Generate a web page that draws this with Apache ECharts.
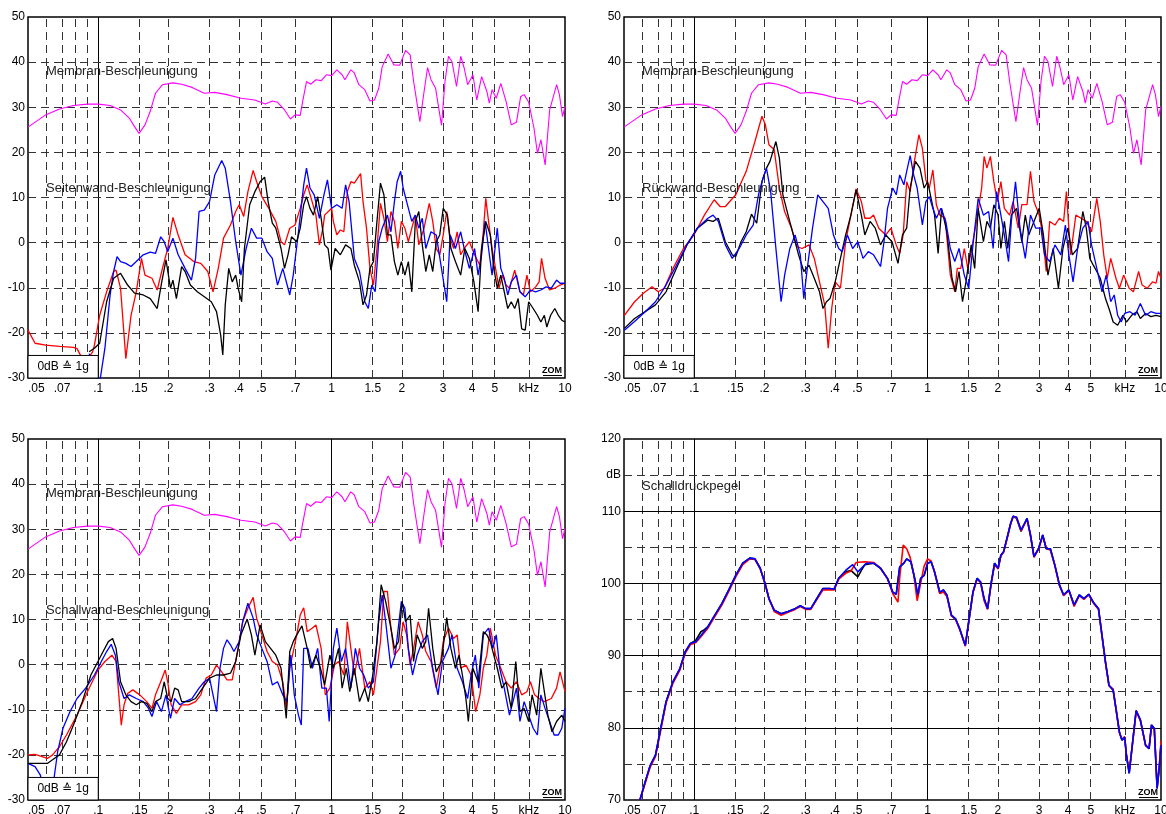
<!DOCTYPE html>
<html><head><meta charset="utf-8">
<script src="https://cdn.jsdelivr.net/npm/echarts@6/dist/echarts.min.js"></script>
<style>html,body{margin:0;padding:0;background:#fff}#c{width:1166px;height:814px}</style>
</head><body><div id="c"></div>
<script>
// ---------- axis tick data ----------
const xLabelValues = [0.05,0.07,0.1,0.15,0.2,0.3,0.4,0.5,0.7,1,1.5,2,3,4,5,7,10];
const xLabelTexts  = ['.05','.07','.1','.15','.2','.3','.4','.5','.7','1','1.5','2','3','4','5','kHz','10'];
const xDashedLines = [0.06,0.07,0.08,0.09,0.15,0.2,0.3,0.4,0.5,0.7,1.5,2,3,4,5,7];
const xSolidLines  = [0.1,1];
const accYDashed   = [-20,-10,0,10,20,30,40];
const splYDashed   = [75,85,95,105,115];
const splYSolid    = [80,90,100,110];
const splYLabels   = {120:'120',115:'dB',110:'110',100:'100',90:'90',80:'80',70:'70'};

// ---------- series data: [frequency kHz, level dB] ----------
const membran = [[0.05,25.6],[0.0595,28.3],[0.0682,29.6],[0.0783,30.4],[0.0899,30.7],[0.1,30.7],[0.1124,30.4],[0.1246,29.4],[0.1358,27.6],[0.143,25.7],[0.1496,24.2],[0.1586,26.1],[0.167,29.1],[0.1759,33.1],[0.1884,35.0],[0.2089,35.4],[0.2277,35.1],[0.2524,34.4],[0.2848,33.1],[0.3157,33.3],[0.3561,32.8],[0.4088,32.0],[0.469,31.6],[0.52,30.7],[0.5571,31.4],[0.5866,31.1],[0.6285,29.4],[0.6663,27.4],[0.6966,28.3],[0.7336,28.2],[0.7516,31.3],[0.7805,35.7],[0.8134,35.1],[0.8566,36.1],[0.9019,35.9],[0.9497,37.2],[1.0,37.0],[1.053,38.3],[1.109,37.2],[1.14,36.1],[1.208,38.3],[1.251,37.6],[1.308,35.0],[1.387,33.9],[1.46,31.4],[1.527,31.6],[1.592,34.2],[1.647,39.0],[1.747,41.8],[1.846,39.4],[1.957,39.3],[2.075,42.6],[2.17,41.6],[2.246,35.7],[2.389,26.8],[2.49,33.5],[2.577,38.8],[2.667,36.1],[2.789,34.2],[2.957,26.0],[3.061,35.7],[3.168,41.3],[3.279,40.1],[3.429,34.6],[3.574,41.3],[3.698,38.7],[3.828,35.0],[4.031,37.2],[4.187,31.6],[4.393,36.8],[4.626,33.5],[4.738,30.9],[4.871,33.9],[5.076,32.0],[5.309,35.3],[5.59,31.3],[5.886,26.1],[6.197,26.7],[6.459,32.4],[6.686,32.8],[6.991,31.1],[7.362,25.4],[7.621,19.8],[7.888,22.8],[8.221,17.2],[8.597,29.4],[9.207,35.0],[9.465,32.8],[9.761,27.9],[10,30.2]];

const seitenRed = [[0.05,-19.4],[0.0536,-22.3],[0.0595,-22.7],[0.0682,-23.0],[0.0783,-23.2],[0.0811,-23.5],[0.0854,-25.7],[0.0883,-26.4],[0.0946,-24.2],[0.0963,-22.7],[0.1014,-16.1],[0.1086,-10.9],[0.1164,-6.4],[0.1192,-6.1],[0.1246,-10.1],[0.1313,-25.7],[0.1382,-16.1],[0.1455,-10.9],[0.1532,-3.5],[0.1586,-7.2],[0.1699,-7.9],[0.1789,-10.5],[0.1884,-5.7],[0.1984,-1.3],[0.2089,5.6],[0.22,1.7],[0.2356,-2.7],[0.2568,-4.2],[0.2751,-4.6],[0.2947,-6.4],[0.3103,-10.9],[0.3268,-5.7],[0.3441,1.0],[0.3686,3.9],[0.3881,6.9],[0.4017,8.4],[0.4201,5.8],[0.4378,11.3],[0.461,16.0],[0.4772,13.5],[0.5024,10.2],[0.5382,7.6],[0.5765,4.7],[0.6071,0.2],[0.6283,-0.5],[0.6616,3.2],[0.6967,3.9],[0.7336,7.6],[0.7592,10.6],[0.7858,12.8],[0.8133,10.2],[0.8565,6.1],[0.8865,-0.5],[0.9175,3.2],[0.9334,6.1],[1.0,7.6],[1.017,4.7],[1.053,1.7],[1.09,2.8],[1.128,2.4],[1.168,11.3],[1.209,13.5],[1.251,13.2],[1.331,15.3],[1.363,9.1],[1.411,3.2],[1.46,-5.7],[1.511,-9.4],[1.564,-1.3],[1.619,8.7],[1.675,5.4],[1.734,0.2],[1.795,6.9],[1.858,4.7],[1.922,-1.3],[1.99,4.7],[2.06,3.2],[2.132,0.2],[2.206,3.2],[2.284,6.1],[2.364,-0.5],[2.488,3.2],[2.621,8.7],[2.712,4.7],[2.807,-1.3],[2.906,-2.7],[3.007,1.7],[3.113,6.9],[3.222,1.0],[3.334,-1.3],[3.451,2.4],[3.572,-2.7],[3.697,-1.3],[3.893,0.2],[4.099,-2.7],[4.317,-5.0],[4.467,2.4],[4.576,9.8],[4.704,4.7],[4.869,-1.3],[5.039,-5.7],[5.216,-10.1],[5.398,-7.2],[5.587,-9.4],[5.783,-10.1],[6.089,-6.1],[6.411,-10.9],[6.636,-11.6],[6.868,-7.2],[7.109,-10.9],[7.485,-9.8],[7.747,-8.7],[7.935,-3.5],[8.214,-7.9],[8.59,-10.5],[9.044,-10.1],[9.524,-9.4],[10,-9.0]];

const seitenBlue = [[0.0914,-24.6],[0.1014,-31],[0.1068,-23.4],[0.1124,-11.6],[0.1164,-6.4],[0.1204,-3.1],[0.1246,-4.2],[0.1313,-4.6],[0.1382,-5.3],[0.1455,-4.2],[0.1559,-2.7],[0.167,-2.1],[0.1759,-2.4],[0.1852,1.3],[0.1917,0.2],[0.1984,-2.0],[0.2089,1.0],[0.22,-2.7],[0.2356,-5.7],[0.2507,-8.3],[0.2612,-3.5],[0.2704,6.9],[0.2847,7.2],[0.2998,9.1],[0.3157,15.0],[0.3382,18.2],[0.3501,16.5],[0.3686,9.1],[0.3881,0.2],[0.4087,-7.2],[0.4303,-1.3],[0.4531,3.2],[0.4772,1.0],[0.5024,1.0],[0.529,-2.0],[0.557,-3.5],[0.5865,-9.4],[0.6176,-5.7],[0.6616,-11.6],[0.6848,-7.2],[0.721,2.4],[0.7592,12.8],[0.7804,16.5],[0.8078,12.1],[0.8418,10.6],[0.8865,5.4],[0.927,10.6],[0.9594,13.9],[1.0,7.6],[1.053,8.4],[1.109,7.6],[1.148,12.8],[1.188,9.1],[1.251,-3.5],[1.317,-6.4],[1.387,-13.1],[1.436,-14.6],[1.486,-9.4],[1.537,-10.9],[1.591,0.2],[1.647,3.2],[1.734,6.1],[1.795,2.4],[1.858,9.1],[1.909,13.5],[1.976,15.8],[2.025,12.1],[2.096,9.1],[2.206,4.7],[2.284,6.1],[2.364,3.2],[2.446,5.4],[2.532,-1.3],[2.666,2.4],[2.807,1.7],[2.956,-5.7],[3.113,-13.1],[3.222,1.7],[3.392,-1.3],[3.572,2.4],[3.697,-1.3],[3.893,-5.7],[4.099,-1.3],[4.243,-7.2],[4.391,-2.7],[4.545,4.7],[4.704,-1.3],[4.869,-7.2],[5.127,3.2],[5.307,-5.7],[5.492,-7.9],[5.684,-11.6],[5.883,-8.7],[6.195,-7.2],[6.411,-10.9],[6.751,-12.0],[7.109,-10.5],[7.485,-10.9],[7.881,-10.5],[8.299,-9.8],[8.738,-10.1],[9.201,-8.3],[9.524,-9.0],[10,-9.0]];

const seitenBlack = [[0.0914,-24.2],[0.0963,-23.4],[0.1014,-22.3],[0.1086,-13.1],[0.1164,-7.9],[0.1246,-6.8],[0.1336,-9.4],[0.143,-11.2],[0.1559,-11.6],[0.167,-12.4],[0.1789,-14.6],[0.1871,-8.7],[0.1951,-3.8],[0.2039,-10.1],[0.2089,-8.3],[0.2162,-12.4],[0.2277,-5.3],[0.2356,-6.4],[0.2481,-9.4],[0.2658,-10.9],[0.2848,-12.0],[0.305,-13.1],[0.3212,-15.3],[0.3347,-20.5],[0.3417,-24.9],[0.3501,-13.8],[0.3623,-5.7],[0.375,-8.7],[0.3881,-7.2],[0.3975,-10.1],[0.4116,-13.1],[0.423,-1.3],[0.4454,8.4],[0.469,11.3],[0.4938,13.5],[0.5164,14.5],[0.5345,9.1],[0.557,4.3],[0.5765,3.2],[0.6071,-1.3],[0.6283,-5.7],[0.6503,-2.7],[0.6731,1.3],[0.7087,0.2],[0.7336,3.2],[0.7592,8.4],[0.7804,10.2],[0.8078,7.6],[0.836,6.1],[0.8713,10.2],[0.9018,5.4],[0.9334,-0.5],[0.966,-1.3],[0.9931,-6.1],[1.035,-1.3],[1.09,-2.7],[1.148,-0.5],[1.209,-1.3],[1.251,-5.0],[1.317,-8.7],[1.363,-13.8],[1.411,-11.6],[1.46,-5.7],[1.511,-4.2],[1.564,4.7],[1.619,13.2],[1.675,10.6],[1.734,1.7],[1.795,1.7],[1.858,-4.2],[1.922,-7.2],[1.99,-4.2],[2.06,-7.2],[2.132,-4.2],[2.206,-10.9],[2.284,4.7],[2.364,6.9],[2.446,-0.5],[2.532,-6.4],[2.621,-2.7],[2.712,-6.4],[2.807,0.2],[2.906,1.7],[3.007,7.6],[3.134,6.1],[3.244,-1.3],[3.392,-4.2],[3.572,-7.2],[3.723,-1.3],[3.893,-3.5],[4.07,-8.7],[4.243,-15.3],[4.391,-1.3],[4.576,4.7],[4.786,1.7],[4.953,-5.7],[5.127,-10.1],[5.307,-7.2],[5.492,-10.9],[5.684,-14.6],[5.883,-13.1],[6.089,-14.6],[6.302,-12.4],[6.522,-19.1],[6.751,-19.4],[6.987,-13.1],[7.307,-14.6],[7.615,-16.1],[7.881,-17.6],[8.157,-16.1],[8.358,-18.7],[8.678,-16.1],[9.044,-14.6],[9.361,-16.1],[9.689,-17.2],[10,-17.6]];

const rueckRed = [[0.0502,-16.1],[0.0555,-13.1],[0.0605,-11.2],[0.0659,-9.8],[0.0701,-10.9],[0.0744,-10.1],[0.0811,-5.7],[0.0899,-1.3],[0.0997,1.7],[0.1105,6.1],[0.1217,9.5],[0.129,8.0],[0.1359,8.0],[0.1506,10.6],[0.167,15.8],[0.182,22.4],[0.195,28.0],[0.2018,26.1],[0.2089,21.7],[0.22,20.6],[0.2316,12.1],[0.2439,6.9],[0.2612,3.2],[0.2751,-0.9],[0.2897,-1.3],[0.3103,-0.5],[0.3268,-3.5],[0.3441,-8.7],[0.3623,-13.8],[0.375,-23.4],[0.3881,-14.6],[0.4017,-8.7],[0.423,-10.1],[0.4454,0.2],[0.469,6.1],[0.4938,11.9],[0.52,9.1],[0.5382,5.4],[0.5667,5.4],[0.5865,6.1],[0.6176,3.2],[0.6616,1.7],[0.6967,3.2],[0.7336,-0.5],[0.7592,-2.4],[0.7858,1.7],[0.8133,13.5],[0.8418,11.3],[0.8773,18.0],[0.9175,23.9],[0.9496,20.9],[0.9828,13.9],[1.017,12.1],[1.053,16.1],[1.09,8.4],[1.128,6.1],[1.188,5.4],[1.251,-7.2],[1.307,-10.9],[1.34,-5.7],[1.387,-5.7],[1.436,-1.3],[1.486,-5.7],[1.537,-2.0],[1.619,4.7],[1.704,12.1],[1.746,19.1],[1.795,16.5],[1.858,19.1],[1.922,13.5],[1.99,9.1],[2.06,13.5],[2.132,7.6],[2.245,6.1],[2.324,9.1],[2.446,3.2],[2.532,8.4],[2.666,8.4],[2.759,15.8],[2.856,9.1],[3.007,6.1],[3.113,1.7],[3.222,-6.4],[3.334,4.7],[3.511,3.9],[3.671,5.4],[3.826,4.7],[3.932,11.3],[4.099,-2.7],[4.317,6.1],[4.545,5.4],[4.786,4.7],[5.039,2.4],[5.307,9.8],[5.492,4.7],[5.684,-2.7],[5.883,-7.9],[6.089,-3.5],[6.411,-7.9],[6.636,-10.1],[6.916,-7.2],[7.307,-10.1],[7.615,-10.9],[8.018,-6.4],[8.299,-9.4],[8.738,-10.1],[9.201,-8.7],[9.524,-9.0],[9.754,-6.4],[10,-7.9]];

const rueckBlack = [[0.0502,-19.0],[0.0555,-16.8],[0.0616,-15.3],[0.0682,-13.8],[0.0757,-10.9],[0.0839,-5.7],[0.093,-0.5],[0.1031,3.2],[0.1144,5.0],[0.1204,4.7],[0.1268,5.4],[0.1359,0.2],[0.1455,-2.7],[0.1506,-3.1],[0.1586,0.2],[0.167,2.4],[0.1759,6.3],[0.1852,4.3],[0.195,13.5],[0.2039,16.5],[0.2111,18.0],[0.2238,22.4],[0.2316,18.7],[0.2397,10.6],[0.2524,6.1],[0.2658,1.7],[0.2799,-2.7],[0.2947,-6.4],[0.3103,-5.0],[0.3268,-7.9],[0.3441,-10.9],[0.3561,-14.6],[0.3686,-13.1],[0.3815,-12.4],[0.4017,-8.7],[0.423,-3.5],[0.4454,1.7],[0.469,6.1],[0.4938,11.7],[0.52,6.1],[0.5382,1.7],[0.5667,4.7],[0.5967,3.2],[0.6283,-0.5],[0.6616,1.7],[0.7039,0.2],[0.7463,-4.6],[0.7804,1.7],[0.8133,3.2],[0.8418,12.1],[0.8865,18.0],[0.927,16.5],[0.966,12.1],[1.0,13.5],[1.035,9.8],[1.071,6.1],[1.109,-2.4],[1.148,7.6],[1.209,2.4],[1.272,-7.9],[1.317,-10.9],[1.363,-6.4],[1.411,-13.1],[1.46,-8.7],[1.537,-0.5],[1.591,-5.7],[1.647,7.6],[1.734,0.2],[1.795,4.7],[1.858,3.2],[1.922,8.4],[2.004,6.1],[2.06,-1.3],[2.132,4.7],[2.206,-1.3],[2.284,6.1],[2.405,7.6],[2.532,0.2],[2.621,6.1],[2.712,1.7],[2.856,4.7],[3.007,7.6],[3.134,1.7],[3.278,-7.2],[3.451,-1.3],[3.634,-10.1],[3.8,-1.3],[3.988,3.2],[4.171,-2.7],[4.391,-1.3],[4.624,6.9],[4.786,3.2],[4.953,-3.5],[5.127,-5.0],[5.307,-6.4],[5.492,-7.9],[5.783,-12.4],[5.985,-14.6],[6.238,-17.6],[6.522,-18.3],[6.868,-16.1],[7.109,-17.6],[7.485,-16.1],[7.881,-15.3],[8.157,-16.8],[8.59,-15.7],[9.044,-16.4],[9.524,-16.1],[10,-16.4]];

const rueckBlue = [[0.0502,-19.4],[0.0555,-17.5],[0.0616,-15.3],[0.0682,-13.1],[0.0757,-9.4],[0.0839,-5.0],[0.093,-0.5],[0.1031,3.2],[0.1144,5.4],[0.1204,6.1],[0.1268,4.7],[0.1359,-0.5],[0.1455,-3.5],[0.1559,-1.3],[0.167,1.7],[0.1789,3.9],[0.1884,10.6],[0.197,14.3],[0.2039,16.5],[0.2125,11.3],[0.2238,-1.3],[0.2356,-13.1],[0.2439,-7.2],[0.2568,-1.3],[0.2704,1.7],[0.2847,-2.7],[0.2947,-12.4],[0.305,-5.7],[0.3212,3.2],[0.3382,10.6],[0.3561,9.1],[0.375,7.6],[0.3948,1.7],[0.4158,-1.3],[0.4303,-2.0],[0.4531,1.7],[0.4772,-1.3],[0.5024,0.2],[0.529,-3.5],[0.557,-2.0],[0.5865,-2.7],[0.6283,-5.3],[0.6503,0.2],[0.6731,7.6],[0.7087,12.1],[0.7336,10.6],[0.7592,15.0],[0.7912,12.8],[0.8133,15.8],[0.8418,19.3],[0.8713,15.0],[0.9018,12.1],[0.9496,3.9],[0.9828,9.1],[1.017,10.2],[1.053,7.6],[1.09,5.4],[1.14,7.6],[1.196,4.7],[1.251,-1.3],[1.307,-4.2],[1.363,-1.3],[1.436,-7.2],[1.5,-10.1],[1.564,-0.5],[1.647,9.8],[1.734,6.1],[1.826,6.9],[1.909,-1.3],[1.976,11.3],[2.06,6.1],[2.132,1.7],[2.222,-4.2],[2.284,4.7],[2.38,13.5],[2.488,3.2],[2.621,-3.5],[2.759,6.1],[2.906,3.2],[3.059,3.2],[3.167,-2.7],[3.334,-4.2],[3.511,-0.5],[3.723,-2.7],[3.893,3.9],[4.029,-2.7],[4.199,-8.7],[4.391,-1.3],[4.624,3.2],[4.869,4.7],[5.039,-0.5],[5.307,-5.7],[5.587,-10.9],[5.823,-7.2],[6.089,-13.1],[6.302,-11.6],[6.522,-16.1],[6.751,-17.6],[6.987,-15.7],[7.357,-15.3],[7.747,-16.1],[8.157,-13.5],[8.59,-16.1],[9.044,-15.3],[9.524,-15.7],[10,-15.7]];

const schallwRed = [[0.05,-20.0],[0.0536,-19.9],[0.0575,-20.4],[0.0605,-20.8],[0.0637,-20.0],[0.0682,-18.2],[0.0731,-15.6],[0.0811,-11.2],[0.0899,-6.0],[0.0997,-1.2],[0.1068,0.7],[0.1144,2.1],[0.1192,0.7],[0.1225,-6.7],[0.1255,-13.4],[0.129,-8.9],[0.1336,-6.4],[0.1406,-5.6],[0.1506,-6.7],[0.1614,-8.2],[0.1699,-9.7],[0.1759,-6.7],[0.1852,-3.8],[0.1936,-1.2],[0.1984,-3.8],[0.2053,-8.9],[0.2162,-10.8],[0.2277,-8.9],[0.2439,-8.9],[0.2612,-8.2],[0.2751,-6.7],[0.2897,-3.0],[0.305,-2.3],[0.3212,-0.1],[0.3382,-1.6],[0.3561,-3.4],[0.375,-3.4],[0.3948,2.9],[0.4158,9.5],[0.4378,12.5],[0.461,14.9],[0.4772,10.3],[0.5024,6.6],[0.529,2.9],[0.557,0.7],[0.5865,-0.1],[0.6176,-3.8],[0.6392,-9.7],[0.6616,-0.8],[0.6848,2.9],[0.7087,6.6],[0.7336,11.0],[0.7592,12.6],[0.7858,7.3],[0.8274,8.1],[0.8565,8.8],[0.9018,3.6],[0.9398,-6.7],[0.9828,-5.2],[1.028,-0.1],[1.071,0.7],[1.128,-2.3],[1.168,9.5],[1.209,3.6],[1.251,-2.3],[1.317,3.6],[1.387,-5.2],[1.46,-3.8],[1.511,-6.7],[1.564,-0.8],[1.619,5.1],[1.675,16.2],[1.734,16.2],[1.795,8.1],[1.858,2.1],[1.956,3.6],[2.025,9.5],[2.096,6.6],[2.169,-0.1],[2.245,3.6],[2.348,9.5],[2.446,6.6],[2.532,2.9],[2.666,0.7],[2.807,-5.2],[2.906,-0.8],[3.007,5.1],[3.167,8.1],[3.334,5.8],[3.451,6.6],[3.572,-0.8],[3.761,-0.1],[3.96,-2.3],[4.142,-10.4],[4.317,-6.7],[4.467,-0.8],[4.624,2.1],[4.786,8.1],[5.039,2.1],[5.307,-0.8],[5.587,-3.8],[5.883,-5.2],[6.195,-3.8],[6.522,-6.7],[6.868,-6.0],[7.109,-3.8],[7.408,-6.7],[7.747,-7.5],[8.157,-8.2],[8.738,-7.5],[9.201,-5.2],[9.524,-1.6],[10,-6.0]];

const schallwBlack = [[0.05,-21.9],[0.0555,-21.9],[0.0605,-21.9],[0.0637,-21.1],[0.0682,-20.0],[0.0731,-17.1],[0.0783,-13.4],[0.0854,-8.2],[0.093,-2.3],[0.0997,0.7],[0.1049,2.9],[0.1105,5.1],[0.1152,5.8],[0.1192,3.6],[0.1246,-3.8],[0.1313,-6.7],[0.1382,-8.2],[0.1455,-8.9],[0.1532,-8.2],[0.1614,-8.6],[0.1699,-10.4],[0.1759,-8.2],[0.1852,-7.5],[0.1917,-3.8],[0.1984,-7.5],[0.2053,-8.2],[0.2125,-5.2],[0.22,-5.6],[0.2277,-8.2],[0.2439,-8.2],[0.2612,-7.5],[0.2799,-5.2],[0.2998,-3.0],[0.3212,-2.3],[0.3441,-2.3],[0.3686,-1.9],[0.3881,0.7],[0.4087,6.6],[0.4348,10.1],[0.4531,6.6],[0.469,2.1],[0.4938,8.8],[0.52,5.1],[0.5475,3.6],[0.5765,2.1],[0.6071,-0.8],[0.6392,-11.9],[0.6616,2.9],[0.6848,5.1],[0.7087,6.6],[0.7463,8.6],[0.7858,3.6],[0.8133,-0.8],[0.8565,2.1],[0.8956,-0.8],[0.9334,-4.5],[0.9828,2.1],[1.017,-0.8],[1.071,3.6],[1.109,-5.2],[1.156,-0.8],[1.196,-6.0],[1.251,-0.8],[1.317,-8.2],[1.387,-5.2],[1.436,-8.2],[1.5,-2.3],[1.564,5.1],[1.63,17.7],[1.704,14.0],[1.795,8.1],[1.858,3.6],[1.936,5.1],[2.004,14.0],[2.074,9.5],[2.169,11.0],[2.245,0.7],[2.324,6.6],[2.446,3.6],[2.532,5.1],[2.603,12.5],[2.712,3.6],[2.807,-1.6],[2.956,0.7],[3.113,10.4],[3.244,3.6],[3.392,-0.8],[3.511,2.1],[3.634,-2.3],[3.761,-7.5],[3.853,-12.6],[4.029,-0.8],[4.243,-3.8],[4.467,7.3],[4.624,6.6],[4.786,5.1],[4.953,2.1],[5.127,-0.8],[5.361,-5.2],[5.587,-3.8],[5.883,-9.7],[6.152,0.7],[6.411,-10.4],[6.682,-9.7],[6.987,-12.6],[7.232,-6.7],[7.563,-11.2],[7.881,-0.8],[8.157,-6.0],[8.443,-11.2],[8.798,-14.9],[9.201,-12.6],[9.689,-11.2],[10,-12.6]];

const schallwBlue = [[0.05,-21.9],[0.0536,-22.6],[0.0565,-24.5],[0.0595,-31],[0.0637,-31],[0.0648,-24.8],[0.067,-19.3],[0.0706,-14.1],[0.0757,-10.4],[0.0811,-7.5],[0.0883,-5.2],[0.0963,-2.3],[0.1031,0.7],[0.1086,2.9],[0.1136,4.5],[0.1184,2.1],[0.1225,-3.8],[0.129,-7.5],[0.1359,-6.7],[0.1455,-7.5],[0.1559,-8.2],[0.1642,-9.7],[0.1699,-11.5],[0.1777,-8.2],[0.1865,-10.4],[0.195,-6.7],[0.2039,-11.9],[0.2125,-7.5],[0.2238,-8.9],[0.2356,-8.2],[0.2524,-7.5],[0.2704,-5.2],[0.2847,-3.8],[0.2998,-3.0],[0.3103,-6.7],[0.3212,-10.4],[0.3324,-0.8],[0.3441,3.6],[0.3561,5.5],[0.3686,4.4],[0.3815,2.9],[0.4017,5.1],[0.4158,9.5],[0.4378,13.6],[0.461,10.3],[0.4772,6.6],[0.5024,3.6],[0.529,0.7],[0.557,-4.5],[0.5865,-3.8],[0.6176,-6.7],[0.6436,-8.2],[0.6684,2.1],[0.6918,-6.7],[0.721,-11.2],[0.7412,-13.4],[0.7592,3.6],[0.7912,3.6],[0.8274,-0.8],[0.8713,3.6],[0.908,-5.2],[0.9496,-5.2],[0.9763,-12.6],[1.017,3.6],[1.053,8.1],[1.101,0.7],[1.148,3.6],[1.209,-5.2],[1.264,3.6],[1.317,-0.8],[1.373,-2.3],[1.436,-5.2],[1.511,-3.8],[1.591,9.5],[1.647,15.4],[1.704,9.5],[1.795,-0.8],[1.871,2.1],[1.99,14.0],[2.06,12.5],[2.132,3.6],[2.222,-2.3],[2.324,2.1],[2.446,5.1],[2.576,6.6],[2.712,-0.8],[2.856,-6.7],[2.986,0.7],[3.167,3.6],[3.278,6.6],[3.451,-0.8],[3.634,-3.8],[3.826,-7.5],[3.96,-2.3],[4.128,2.1],[4.272,-5.2],[4.467,6.6],[4.704,8.1],[4.902,3.6],[5.074,6.6],[5.252,-0.8],[5.492,-5.2],[5.783,-11.2],[5.985,-8.2],[6.195,-5.2],[6.411,-12.6],[6.682,-8.2],[6.987,-11.2],[7.307,-14.1],[7.615,-15.6],[7.881,-6.7],[8.214,-9.7],[8.59,-12.6],[8.983,-15.6],[9.361,-15.6],[9.689,-14.1],[10,-9.7]];

const splBlue = [[0.0585,70.0],[0.0616,72.5],[0.0648,74.8],[0.0682,76.2],[0.0718,79.9],[0.0757,83.6],[0.0811,86.4],[0.0868,88.2],[0.0914,90.5],[0.0963,91.7],[0.1014,91.9],[0.1068,92.8],[0.1144,94.0],[0.1225,95.6],[0.1313,97.2],[0.1406,99.1],[0.1506,101.1],[0.1614,102.8],[0.1729,103.5],[0.182,103.4],[0.1917,102.1],[0.2018,99.8],[0.2089,97.9],[0.22,96.3],[0.2356,95.8],[0.2524,96.1],[0.2704,96.5],[0.2847,96.9],[0.2998,96.5],[0.3157,96.5],[0.3324,97.7],[0.3561,99.3],[0.3815,99.3],[0.3975,99.2],[0.4158,100.7],[0.4454,101.8],[0.4772,102.6],[0.5024,101.6],[0.52,102.1],[0.5475,102.8],[0.5865,102.8],[0.6283,102.1],[0.6731,100.7],[0.7087,98.8],[0.7336,98.5],[0.7592,102.3],[0.7912,102.8],[0.8133,103.4],[0.8477,103.0],[0.8803,100.7],[0.908,98.4],[0.9334,100.7],[0.966,101.1],[1.0,102.8],[1.035,103.0],[1.071,101.6],[1.128,98.8],[1.168,99.1],[1.209,98.4],[1.264,95.6],[1.317,95.1],[1.373,93.7],[1.45,91.4],[1.5,94.7],[1.564,98.8],[1.63,100.7],[1.686,100.2],[1.746,97.9],[1.807,96.5],[1.871,100.0],[1.936,102.8],[2.004,102.1],[2.06,103.9],[2.117,104.4],[2.206,106.7],[2.268,108.3],[2.324,109.3],[2.405,109.2],[2.514,107.4],[2.603,108.3],[2.666,109.0],[2.759,106.7],[2.856,103.7],[2.986,104.8],[3.113,106.7],[3.222,104.8],[3.357,104.8],[3.511,102.5],[3.671,99.8],[3.826,98.4],[4.029,99.1],[4.243,97.0],[4.467,98.4],[4.671,97.9],[4.902,98.5],[5.127,97.4],[5.398,96.5],[5.587,92.8],[5.783,89.1],[5.985,85.9],[6.238,85.2],[6.411,82.7],[6.636,79.4],[6.8,78.3],[6.987,78.7],[7.109,76.2],[7.307,73.7],[7.563,78.1],[7.826,82.4],[8.157,81.1],[8.59,77.6],[8.89,77.1],[9.107,80.4],[9.361,79.9],[9.623,71.6],[9.827,74.4],[10,77.6]];

const splRed = [[0.0585,70.0],[0.0616,72.3],[0.0648,74.6],[0.0682,76.0],[0.0718,79.6],[0.0757,83.4],[0.0811,86.2],[0.0868,88.0],[0.0914,90.3],[0.0963,91.5],[0.1014,91.8],[0.1068,92.6],[0.1144,93.8],[0.1225,95.4],[0.1313,97.0],[0.1406,98.9],[0.1506,100.9],[0.1614,102.6],[0.1729,103.4],[0.182,103.3],[0.1917,102.0],[0.2018,99.8],[0.2089,97.9],[0.22,96.1],[0.2356,95.6],[0.2524,96.0],[0.2704,96.4],[0.2847,96.8],[0.2998,96.4],[0.3157,96.4],[0.3324,97.6],[0.3561,99.1],[0.3815,99.1],[0.3975,99.1],[0.4158,100.6],[0.4454,101.4],[0.469,101.7],[0.4938,102.9],[0.5382,103.0],[0.5865,102.9],[0.6283,102.1],[0.6731,100.6],[0.7087,98.6],[0.7463,97.4],[0.7592,100.8],[0.7858,105.3],[0.8133,104.8],[0.8418,103.6],[0.8713,101.3],[0.9018,97.6],[0.9334,100.0],[0.966,102.4],[1.0,103.4],[1.035,103.1],[1.071,101.5],[1.128,98.6],[1.168,98.8],[1.209,98.2],[1.264,95.5],[1.317,95.0],[1.373,93.6],[1.45,91.3],[1.5,94.6],[1.564,98.7],[1.63,100.6],[1.686,100.1],[1.746,97.6],[1.807,96.4],[1.871,99.9],[1.936,102.6],[2.004,102.0],[2.06,103.8],[2.117,104.3],[2.206,106.6],[2.268,108.2],[2.324,109.2],[2.405,109.1],[2.514,107.3],[2.603,108.2],[2.666,108.9],[2.759,106.6],[2.856,103.6],[2.986,104.7],[3.113,106.6],[3.222,104.9],[3.357,104.6],[3.511,102.4],[3.671,99.7],[3.826,98.3],[4.029,99.0],[4.243,96.8],[4.467,98.3],[4.671,97.8],[4.902,98.4],[5.127,97.3],[5.398,96.4],[5.587,92.7],[5.783,89.0],[5.985,85.8],[6.238,85.4],[6.411,82.6],[6.636,79.3],[6.8,78.4],[6.987,78.8],[7.109,76.3],[7.307,73.9],[7.563,78.0],[7.826,82.3],[8.157,81.0],[8.59,77.5],[8.89,77.2],[9.107,80.3],[9.361,79.8],[9.623,71.8],[9.827,74.6],[10,78.2]];

const splBlack = [[0.0585,70.0],[0.0616,72.5],[0.0648,74.8],[0.0682,76.2],[0.0718,79.9],[0.0757,83.6],[0.0811,86.4],[0.0868,88.2],[0.0914,90.5],[0.0963,91.7],[0.1014,92.1],[0.1068,93.3],[0.1105,93.6],[0.1144,94.0],[0.1225,95.6],[0.1313,97.2],[0.1406,99.1],[0.1506,101.1],[0.1614,102.8],[0.1729,103.5],[0.182,103.4],[0.1917,102.1],[0.2018,99.8],[0.2089,97.9],[0.22,96.3],[0.2356,95.8],[0.2524,96.1],[0.2704,96.5],[0.2847,96.9],[0.2998,96.5],[0.3157,96.5],[0.3324,97.7],[0.3561,99.3],[0.3815,99.3],[0.3975,99.2],[0.4158,100.7],[0.4454,101.6],[0.469,101.8],[0.5024,100.9],[0.52,101.8],[0.5382,102.6],[0.5865,102.8],[0.6283,102.1],[0.6731,100.7],[0.7087,98.8],[0.7336,98.5],[0.7592,102.3],[0.7912,102.8],[0.8133,103.4],[0.8477,103.0],[0.8803,100.7],[0.908,98.2],[0.9334,100.7],[0.966,101.1],[1.0,102.8],[1.035,103.0],[1.071,101.6],[1.128,98.6],[1.168,99.1],[1.209,98.4],[1.264,95.6],[1.317,95.1],[1.373,93.7],[1.45,91.4],[1.5,94.7],[1.564,98.8],[1.63,100.7],[1.686,100.2],[1.746,97.9],[1.807,96.5],[1.871,100.0],[1.936,102.8],[2.004,102.1],[2.06,103.9],[2.117,104.4],[2.206,106.7],[2.268,108.3],[2.324,109.3],[2.405,109.0],[2.514,107.2],[2.603,108.3],[2.666,109.0],[2.759,106.7],[2.856,103.7],[2.986,104.8],[3.113,106.7],[3.222,104.8],[3.357,104.8],[3.511,102.5],[3.671,99.8],[3.826,98.4],[4.029,99.1],[4.243,97.0],[4.467,98.4],[4.671,97.9],[4.902,98.5],[5.127,97.4],[5.398,96.5],[5.587,92.8],[5.783,89.1],[5.985,85.9],[6.238,85.2],[6.411,82.7],[6.636,79.4],[6.8,78.3],[6.987,78.7],[7.109,76.2],[7.307,73.7],[7.563,78.1],[7.826,82.4],[8.157,81.1],[8.59,77.6],[8.89,77.1],[9.107,80.4],[9.361,79.9],[9.623,71.6],[9.827,74.4],[10,77.6]];

// ---------- layout / style ----------
const FONT = '"Liberation Sans", Arial, "DejaVu Sans", sans-serif';
const GRIDS = [
  {left:28, top:17, width:537, height:361},
  {left:624, top:17, width:537, height:361},
  {left:28, top:439, width:537, height:361},
  {left:624, top:439, width:537, height:361}
];
const MAG = '#ff00ff', RED = '#ff0000', BLUE = '#0000ff', BLK = '#000000';
const panels = [
  {spl:false, texts:['Membran-Beschleunigung','Seitenwand-Beschleunigung'],
   series:[[membran,MAG,1.1],[seitenRed,RED,1.3],[seitenBlue,BLUE,1.3],[seitenBlack,BLK,1.3]]},
  {spl:false, texts:['Membran-Beschleunigung','Rückwand-Beschleunigung'],
   series:[[membran,MAG,1.1],[rueckRed,RED,1.3],[rueckBlack,BLK,1.3],[rueckBlue,BLUE,1.3]]},
  {spl:false, texts:['Membran-Beschleunigung','Schallwand-Beschleunigung'],
   series:[[membran,MAG,1.1],[schallwRed,RED,1.3],[schallwBlue,BLUE,1.3],[schallwBlack,BLK,1.3]]},
  {spl:true, texts:['Schalldruckpegel'],
   series:[[splBlack,BLK,1.6],[splRed,RED,1.6],[splBlue,BLUE,1.6]]}
];

function fmtX(v){
  for (let i=0;i<xLabelValues.length;i++){
    if (Math.abs(xLabelValues[i]-v) < xLabelValues[i]*1e-3) return xLabelTexts[i];
  }
  return '';
}
const DASH = {type:[8,5], color:'#333', width:1};
const SOLID = {type:'solid', color:'#000', width:1};
function gridLineData(spl){
  const d = [];
  xDashedLines.forEach(v => d.push({xAxis:v, lineStyle:DASH}));
  xSolidLines.forEach(v => d.push({xAxis:v, lineStyle:SOLID}));
  if (spl){
    splYDashed.forEach(v => d.push({yAxis:v, lineStyle:DASH}));
    splYSolid.forEach(v => d.push({yAxis:v, lineStyle:SOLID}));
  } else {
    accYDashed.forEach(v => d.push({yAxis:v, lineStyle:DASH}));
  }
  return d;
}

const option = {animation:false, backgroundColor:'#fff', grid:[], xAxis:[], yAxis:[], series:[], graphic:[]};
panels.forEach((p,i) => {
  const g = GRIDS[i];
  option.grid.push({left:g.left, top:g.top, width:g.width, height:g.height, show:true,
    borderColor:'#000', borderWidth:1.5, backgroundColor:'transparent', containLabel:false, outerBoundsMode:'none'});
  option.xAxis.push({type:'log', logBase:10, gridIndex:i, min:0.05, max:10,
    axisLine:{show:false}, axisTick:{show:false}, splitLine:{show:false}, minorSplitLine:{show:false},
    axisLabel:{customValues:xLabelValues, formatter:fmtX, color:'#000', fontSize:12, fontFamily:FONT, margin:5,
      showMinLabel:true, showMaxLabel:true, hideOverlap:false, alignMinLabel:'left'}});
  if (p.spl){
    option.yAxis.push({type:'value', gridIndex:i, min:70, max:120, interval:5,
      axisLine:{show:false}, axisTick:{show:false}, splitLine:{show:false},
      axisLabel:{color:'#000', fontSize:12, fontFamily:FONT, margin:3, formatter:v => splYLabels[Math.round(v)] || ''}});
  } else {
    option.yAxis.push({type:'value', gridIndex:i, min:-30, max:50, interval:10,
      axisLine:{show:false}, axisTick:{show:false}, splitLine:{show:false},
      axisLabel:{color:'#000', fontSize:12, fontFamily:FONT, margin:3}});
  }
  // grid lines
  option.series.push({type:'line', xAxisIndex:i, yAxisIndex:i, data:[], z:1, silent:true,
    markLine:{silent:true, z:1, symbol:['none','none'], label:{show:false}, animation:false, data:gridLineData(p.spl)}});
  // curves
  p.series.forEach(s => option.series.push({type:'line', xAxisIndex:i, yAxisIndex:i, data:s[0], z:3,
    showSymbol:false, symbol:'none', silent:true, clip:true, animation:false,
    lineStyle:{color:s[1], width:s[2]}, itemStyle:{color:s[1]}}));
  // 0dB = 1g box
  if (!p.spl){
    option.series.push({type:'line', xAxisIndex:i, yAxisIndex:i, data:[], z:10, silent:true,
      markArea:{silent:true, z:10, itemStyle:{color:'#fff', borderColor:'#000', borderWidth:1, opacity:1},
        label:{show:true, position:'inside', color:'#000', fontSize:12, fontFamily:FONT, formatter:'0dB \u2259 1g'},
        data:[[{xAxis:0.05, yAxis:-30},{xAxis:0.1, yAxis:-25}]]}});
  }
  // panel texts
  const offs = p.spl ? [47] : [54,171];
  p.texts.forEach((t,k) => option.graphic.push({type:'text', x:g.left+18, y:g.top+offs[k], z:20, silent:true,
    style:{text:t, fill:'#222', fontSize:13, fontFamily:FONT, verticalAlign:'middle'}}));
  // ZOM logo
  option.graphic.push({type:'text', x:g.left+g.width-3, y:g.top+g.height-3, z:20, silent:true,
    style:{text:'ZOM', fill:'#000', fontSize:9, fontWeight:'bold', fontFamily:FONT, align:'right', verticalAlign:'bottom'}});
  option.graphic.push({type:'line', z:20, silent:true,
    shape:{x1:g.left+g.width-22, y1:g.top+g.height-2.5, x2:g.left+g.width-3, y2:g.top+g.height-2.5},
    style:{stroke:'#000', lineWidth:1}});
});

const chart = echarts.init(document.getElementById('c'), null, {renderer:'canvas'});
chart.setOption(option);
</script>
</body></html>
